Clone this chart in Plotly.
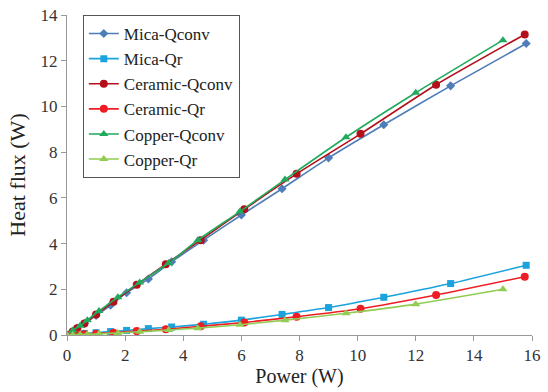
import plotly.graph_objects as go

# Mica
mica_x = [0, 0.15, 0.35, 0.6, 1.0, 1.5, 2.05, 2.8, 3.6, 4.7, 6.0, 7.4, 9.0, 10.9, 13.2, 15.8]
mica_qconv = [0, 0.12, 0.3, 0.5, 0.85, 1.3, 1.85, 2.45, 3.2, 4.15, 5.25, 6.4, 7.75, 9.2, 10.9, 12.75]
mica_qr = [0, 0.02, 0.04, 0.07, 0.1, 0.15, 0.2, 0.28, 0.35, 0.47, 0.65, 0.9, 1.2, 1.65, 2.25, 3.05]

# Ceramic
ceramic_x = [0, 0.2, 0.35, 0.6, 1.0, 1.6, 2.4, 3.4, 4.6, 6.1, 7.9, 10.1, 12.7, 15.75]
ceramic_qconv = [0, 0.15, 0.3, 0.5, 0.9, 1.45, 2.2, 3.1, 4.15, 5.5, 7.05, 8.8, 10.95, 13.15]
ceramic_qr = [0, 0.01, 0.02, 0.03, 0.06, 0.1, 0.17, 0.25, 0.38, 0.55, 0.8, 1.15, 1.75, 2.55]

# Copper
copper_x = [0, 0.2, 0.45, 0.7, 1.1, 1.75, 2.5, 3.5, 4.5, 5.95, 7.5, 9.6, 12.0, 15.0]
copper_qconv = [0, 0.2, 0.4, 0.65, 1.05, 1.65, 2.3, 3.15, 4.15, 5.4, 6.8, 8.65, 10.6, 12.9]
copper_qr = [0, 0.01, 0.02, 0.03, 0.05, 0.09, 0.14, 0.22, 0.3, 0.45, 0.65, 0.95, 1.35, 2.0]

x_ticks = [0, 2, 4, 6, 8, 10, 12, 14, 16]
y_ticks = [0, 2, 4, 6, 8, 10, 12, 14]

series = [
    ("Mica-Qconv", mica_x, mica_qconv, "#4F7DB8", "diamond", 7),
    ("Mica-Qr", mica_x, mica_qr, "#1AA3DC", "square", 7),
    ("Ceramic-Qconv", ceramic_x, ceramic_qconv, "#B3101B", "circle", 8),
    ("Ceramic-Qr", ceramic_x, ceramic_qr, "#EE1C24", "circle", 8),
    ("Copper-Qconv", copper_x, copper_qconv, "#1FAA5C", "triangle-up", 8),
    ("Copper-Qr", copper_x, copper_qr, "#92CC52", "triangle-up", 8),
]

SERIF = "Liberation Serif, Times New Roman, serif"

fig = go.Figure()
for name, xs, ys, color, sym, sz in series:
    fig.add_trace(go.Scatter(
        x=xs, y=ys, name=name, mode="lines+markers",
        line=dict(color=color, width=1.6, shape="spline", smoothing=0.6),
        marker=dict(color=color, symbol=sym, size=sz),
    ))

fig.update_layout(
    width=548, height=392,
    margin=dict(l=67, r=16, t=15, b=57),
    paper_bgcolor="white", plot_bgcolor="white",
    font=dict(family=SERIF, size=17, color="#333333"),
    legend=dict(
        x=0.034, y=1.0, xanchor="left", yanchor="top",
        bgcolor="white", bordercolor="#555555", borderwidth=1,
        font=dict(family=SERIF, size=17, color="#222222"),
        itemwidth=30,
    ),
    showlegend=True,
)
fig.update_xaxes(
    range=[0, 16], tickvals=x_ticks, showgrid=False, zeroline=False,
    showline=True, linecolor="#999999", linewidth=1, automargin=False,
    ticks="outside", tickcolor="#999999", ticklen=5,
    title=dict(text="Power (W)", font=dict(family=SERIF, size=20, color="#222222"), standoff=4),
    tickfont=dict(family=SERIF, size=17, color="#333333"),
)
fig.update_yaxes(
    range=[0, 14], tickvals=y_ticks, showgrid=False, zeroline=False,
    showline=True, linecolor="#999999", linewidth=1, automargin=False,
    ticks="outside", tickcolor="#999999", ticklen=5,
    title=dict(text="Heat flux (W)", font=dict(family=SERIF, size=22, color="#222222"), standoff=8),
    tickfont=dict(family=SERIF, size=17, color="#333333"),
)

fig.write_html("out.html", config={"displayModeBar": False},
               post_script="document.body.style.margin='0';")
